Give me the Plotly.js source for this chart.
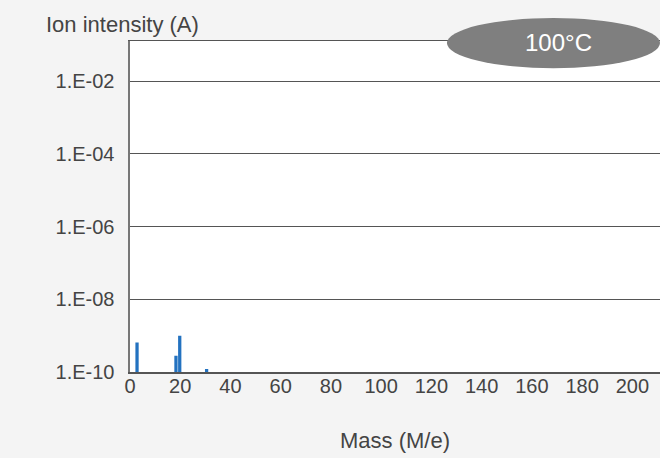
<!DOCTYPE html>
<html>
<head>
<meta charset="utf-8">
<script src="https://cdn.plot.ly/plotly-3.0.1.min.js"></script>
<style>html,body{margin:0;padding:0;background:#f4f4f4;}#chart{width:660px;height:458px;}</style>
</head>
<body>
<div id="chart"></div>
<script>
// Data
var masses = [2.8, 18.3, 19.8, 30.5];
var intensities = [6.5e-10, 2.8e-10, 1.0e-9, 1.2e-10];
var yTickVals = [1e-10, 1e-8, 1e-6, 1e-4, 1e-2];
var yTickText = ['1.E-10', '1.E-08', '1.E-06', '1.E-04', '1.E-02'];
var xTickVals = [0, 20, 40, 60, 80, 100, 120, 140, 160, 180, 200];
var tempLabel = '100°C';

var font = 'Liberation Sans, Arial, Helvetica, sans-serif';
var trace = {
  type: 'bar',
  x: masses,
  y: intensities,
  width: 1.3,
  marker: {color: '#2372c0', line: {width: 0}},
  hoverinfo: 'x+y'
};
var layout = {
  width: 660, height: 458,
  margin: {l: 130, r: 0, t: 41, b: 86},
  paper_bgcolor: '#f4f4f4',
  plot_bgcolor: '#ffffff',
  showlegend: false,
  font: {family: font, size: 20, color: '#444'},
  xaxis: {
    range: [0, 211],
    tickvals: xTickVals,
    showgrid: false, zeroline: false,
    showline: true, mirror: true, linecolor: '#555', linewidth: 1.5,
    ticks: '', ticklen: 0,
    ticklabelstandoff: -5,
    tickfont: {family: font, size: 20, color: '#444'},
    title: {text: 'Mass (M/e)', font: {family: font, size: 22, color: '#444'}, standoff: 37}
  },
  yaxis: {
    type: 'log',
    range: [-10, -0.9],
    tickvals: yTickVals,
    ticktext: yTickText,
    showgrid: true, gridcolor: '#555', gridwidth: 1,
    zeroline: false,
    showline: true, linecolor: '#777', linewidth: 2.5,
    ticks: '',
    ticklabelstandoff: 9,
    tickfont: {family: font, size: 20, color: '#444'}
  },
  shapes: [{
    type: 'circle', xref: 'paper', yref: 'paper',
    x0: 0.598, x1: 1.0, y0: 0.918, y1: 1.0695,
    fillcolor: '#7f7f7f', line: {width: 0}
  }],
  annotations: [
    {text: 'Ion intensity (A)', xref: 'paper', yref: 'paper', x: -0.162, y: 1.05,
     xanchor: 'left', yanchor: 'middle', showarrow: false,
     font: {family: font, size: 22, color: '#444'}},
    {text: tempLabel, xref: 'paper', yref: 'paper', x: 0.808, y: 0.996,
     xanchor: 'center', yanchor: 'middle', showarrow: false,
     font: {family: font, size: 24, color: '#ffffff'}}
  ]
};
Plotly.newPlot('chart', [trace], layout, {displayModeBar: false, staticPlot: true});
</script>
</body>
</html>
